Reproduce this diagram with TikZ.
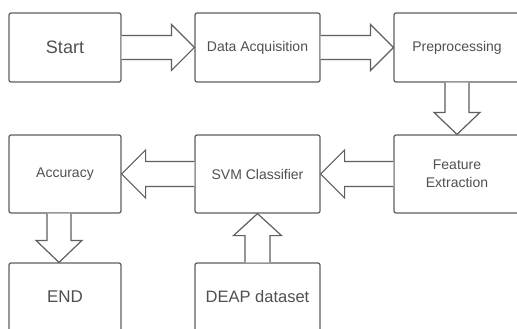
\documentclass[tikz,border=0pt]{standalone}
\usepackage{fontspec}
\setmainfont{Liberation Sans}
\usetikzlibrary{calc}
\definecolor{linegray}{RGB}{95,95,95}
\definecolor{textgray}{RGB}{80,80,80}
\tikzset{
  boxnode/.style={draw=linegray, line width=1.2pt, rounded corners=2pt, fill=white,
    text=textgray, align=center, inner sep=0pt, minimum width=#1},
  boxnode/.default=125pt,
  blockarrow/.style={draw=linegray, line width=1.2pt, line join=miter, fill=white},
}
\newcommand{\rarrow}[2]{% from west-facing east anchor #1 to #2
  \draw[blockarrow] let \p1=(#1), \p2=(#2) in
    (\x1,\y2+12) -- (\x2-23,\y2+12) -- (\x2-23,\y2+23) -- (\x2,\y2) --
    (\x2-23,\y2-23) -- (\x2-23,\y2-12) -- (\x1,\y2-12);}
\newcommand{\larrow}[2]{%
  \draw[blockarrow] let \p1=(#1), \p2=(#2) in
    (\x1,\y2+12.5) -- (\x2+24,\y2+12.5) -- (\x2+24,\y2+24) -- (\x2,\y2) --
    (\x2+24,\y2-24) -- (\x2+24,\y2-12.5) -- (\x1,\y2-12.5);}
\newcommand{\darrow}[2]{%
  \draw[blockarrow] let \p1=(#1), \p2=(#2) in
    (\x2-12,\y1) -- (\x2-12,\y2+22) -- (\x2-23,\y2+22) -- (\x2,\y2) --
    (\x2+23,\y2+22) -- (\x2+12,\y2+22) -- (\x2+12,\y1);}
\newcommand{\uarrow}[2]{%
  \draw[blockarrow] let \p1=(#1), \p2=(#2) in
    (\x2-12.5,\y1) -- (\x2-12.5,\y2-22) -- (\x2-24,\y2-22) -- (\x2,\y2) --
    (\x2+24,\y2-22) -- (\x2+12.5,\y2-22) -- (\x2+12.5,\y1);}
\begin{document}
\begin{tikzpicture}[x=1pt,y=1pt]
\useasboundingbox (0,0) rectangle (517,-329);
\fill[white] (0,0) rectangle (517,-329);
\clip (0,0) rectangle (517,-329);

% row 1
\node[boxnode=112pt, minimum height=69pt, font=\fontsize{18}{21}\selectfont] (start) at (65,-47.5) {Start};
\node[boxnode=125pt, minimum height=69pt, font=\fontsize{14}{17}\selectfont] (da) at (257.5,-47.5) {Data Acquisition};
\node[boxnode=126pt, minimum height=69pt, font=\fontsize{14}{17}\selectfont] (prep) at (457,-47.5) {Preprocessing};
% row 2
\node[boxnode=112pt, minimum height=78pt, font=\fontsize{14}{17}\selectfont] (acc) at (65,-174) {Accuracy};
\node[boxnode=125pt, minimum height=78pt, font=\fontsize{14}{17}\selectfont] (svm) at (257.5,-174) {SVM Classifier};
\node[boxnode=126pt, minimum height=78pt, font=\fontsize{14}{18}\selectfont] (fe) at (457,-174) {Feature\\Extraction};
% row 3
\node[boxnode=112pt, minimum height=68pt, font=\fontsize{17}{20}\selectfont] (end) at (65,-297) {END};
\node[boxnode=125pt, minimum height=68pt, font=\fontsize{16.5}{20}\selectfont] (deap) at (257.5,-297) {DEAP dataset};

% connectors
\rarrow{start.east}{da.west}
\rarrow{da.east}{prep.west}
\darrow{prep.south}{fe.north}
\larrow{fe.west}{svm.east}
\larrow{svm.west}{acc.east}
\coordinate (accout) at ($(acc.south)+(-6,0)$);
\coordinate (endin) at ($(end.north)+(-6,0)$);
\darrow{accout}{endin}
\uarrow{deap.north}{svm.south}
\end{tikzpicture}
\end{document}
